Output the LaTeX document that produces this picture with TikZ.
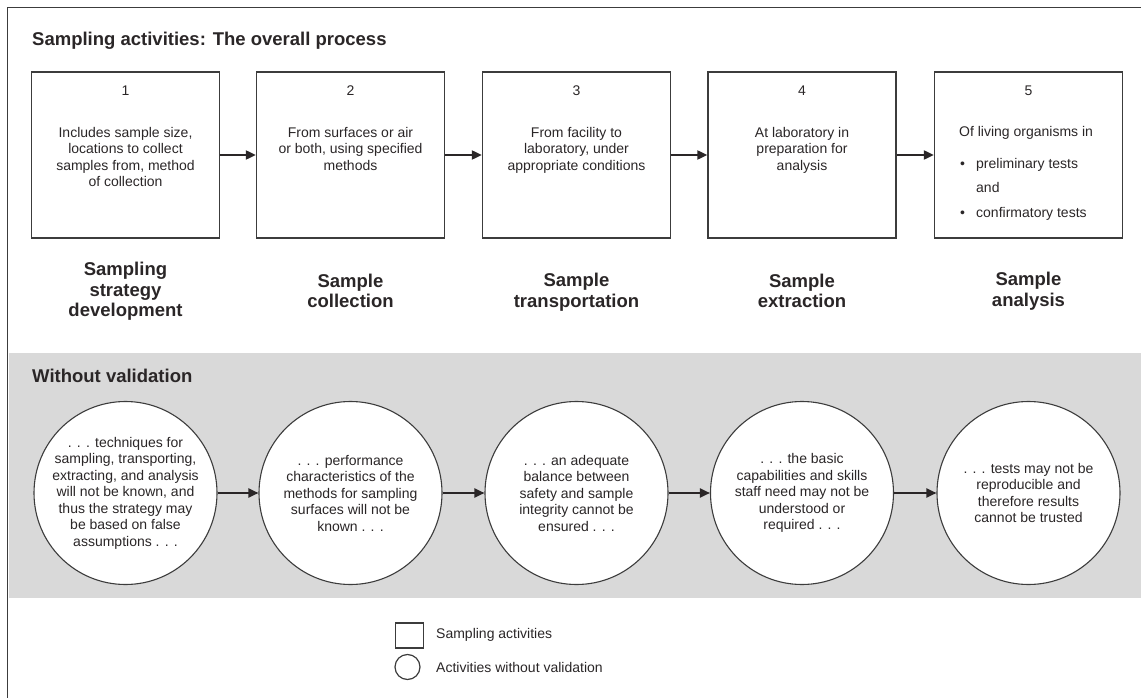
\documentclass[tikz,border=0pt]{standalone}
\usepackage{fontspec}
\setmainfont{Liberation Sans}
\usetikzlibrary{arrows.meta}
\definecolor{txt}{HTML}{2A2627}
\definecolor{ln}{HTML}{3C3C3C}
\definecolor{band}{HTML}{D9D9D9}
\tikzset{
  body/.style={font=\fontsize{14}{16.5}\selectfont, text=txt, inner sep=0pt, align=center},
  head/.style={font=\fontsize{18.5}{20.5}\selectfont\bfseries, text=txt, inner sep=0pt},
  stagelbl/.style={font=\fontsize{18.5}{20.5}\selectfont\bfseries, text=txt, inner sep=0pt, align=center},
  numlbl/.style={font=\fontsize{14}{16.5}\selectfont, text=txt, inner sep=0pt, anchor=base},
  stepbox/.style={draw=ln, line width=1.3pt, minimum width=188pt, minimum height=166pt, inner sep=0pt},
  stepcirc/.style={circle, draw=ln, line width=1.1pt, fill=white, minimum size=183pt, inner sep=0pt},
  flow/.style={draw=txt, line width=2pt, -{Triangle[length=10pt,width=9pt]}},
}
\begin{document}
\begin{tikzpicture}[x=1pt,y=-1pt]
\useasboundingbox (0,0) rectangle (1141,698);
% frame and band
\fill[band] (8.5,353) rectangle (1141,598);
\draw[ln, line width=1.5pt] (7.5,698) -- (7.5,7.5) -- (1141,7.5);
% titles
\node[head, anchor=base west] (t1) at (32,46) {Sampling activities: The overall process};
\node[head, anchor=base west] (t2) at (32,382) {Without validation};
% boxes
\node[stepbox] (b1) at (125.5,155) {};
\node[stepbox] (b2) at (350.5,155) {};
\node[stepbox] (b3) at (576.5,155) {};
\node[stepbox] (b4) at (802,155) {};
\node[stepbox] (b5) at (1028.5,155) {};
\foreach \i/\x in {1/125.5,2/350.5,3/576.5,4/802,5/1028.5}{
  \node[numlbl] (n\i) at (\x,96) {\i};
}
\node[body, anchor=north] (x1) at (125.5,127) {Includes sample size,\\locations to collect\\samples from, method\\of collection};
\node[body, anchor=north] (x2) at (350.5,127) {From surfaces or air\\or both, using specified\\methods};
\node[body, anchor=north] (x3) at (576.5,127) {From facility to\\laboratory, under\\appropriate conditions};
\node[body, anchor=north] (x4) at (802,127) {At laboratory in\\preparation for\\analysis};
\node[body, anchor=base west] (x5a) at (959,137) {Of living organisms in};
\node[body, anchor=base west] (x5b) at (960,168) {•};
\node[body, anchor=base west] (x5c) at (976,168) {preliminary tests};
\node[body, anchor=base west] (x5d) at (976,193) {and};
\node[body, anchor=base west] (x5e) at (960,217) {•};
\node[body, anchor=base west] (x5f) at (976,217) {confirmatory tests};
\draw[flow] (b1.east) -- (b2.west);
\draw[flow] (b2.east) -- (b3.west);
\draw[flow] (b3.east) -- (b4.west);
\draw[flow] (b4.east) -- (b5.west);
% stage labels
\node[stagelbl] (s1) at (125.5,291.5) {Sampling\\strategy\\development};
\node[stagelbl] (s2) at (350.5,291) {Sample\\collection};
\node[stagelbl] (s3) at (576.5,292) {Sample\\transportation};
\node[stagelbl] (s4) at (802,291) {Sample\\extraction};
\node[stagelbl] (s5) at (1028.5,291) {Sample\\analysis};
% circles
\node[stepcirc] (c1) at (125.5,493) {};
\node[stepcirc] (c2) at (350.5,493) {};
\node[stepcirc] (c3) at (576.5,493) {};
\node[stepcirc] (c4) at (802,493) {};
\node[stepcirc] (c5) at (1028.5,493) {};
\node[body] (y1) at (c1.center) {. . . techniques for\\sampling, transporting,\\extracting, and analysis\\will not be known, and\\thus the strategy may\\be based on false\\assumptions . . .};
\node[body] (y2) at (c2.center) {. . . performance\\characteristics of the\\methods for sampling\\surfaces will not be\\known . . .};
\node[body] (y3) at (c3.center) {. . . an adequate\\balance between\\safety and sample\\integrity cannot be\\ensured . . .};
\node[body] (y4) at (c4.center) {. . . the basic\\capabilities and skills\\staff need may not be\\understood or\\required . . .};
\node[body] (y5) at (c5.center) {. . . tests may not be\\reproducible and\\therefore results\\cannot be trusted};
\draw[flow] (c1.east) -- (c2.west);
\draw[flow] (c2.east) -- (c3.west);
\draw[flow] (c3.east) -- (c4.west);
\draw[flow] (c4.east) -- (c5.west);
% legend
\node[draw=ln, line width=1.2pt, minimum width=28pt, minimum height=25pt, inner sep=0pt] (lg1) at (409.5,635.5) {};
\node[circle, draw=ln, line width=1.2pt, minimum size=25pt, inner sep=0pt] (lg2) at (407.5,667) {};
\node[body, anchor=west] (lt1) at (436,635) {Sampling activities};
\node[body, anchor=west] (lt2) at (436,667) {Activities without validation};
\end{tikzpicture}
\end{document}
